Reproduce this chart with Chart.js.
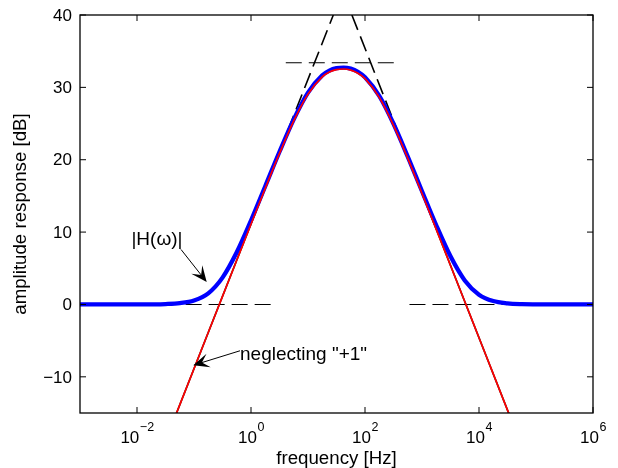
<!DOCTYPE html>
<html>
<head>
<meta charset="utf-8">
<script src="https://cdn.jsdelivr.net/npm/chart.js@4.4.0/dist/chart.umd.min.js"></script>
<style>
  html, body { margin: 0; padding: 0; background: #fff; }
  #wrap { width: 618px; height: 468px; }
</style>
</head>
<body>
<div id="wrap"><canvas id="chart" width="618" height="468"></canvas></div>
<script>
// samples: log10 of frequency [Hz] and amplitude in dB
const freqExp = [-3, -2.5, -2, -1.75, -1.5, -1.25, -1, -0.75, -0.5, -0.25, 0, 0.25, 0.5, 0.75, 1, 1.25, 1.375, 1.5, 1.625, 1.75, 1.875, 2, 2.25, 2.5, 2.75, 3, 3.25, 3.5, 3.75, 4, 4.25, 4.5, 4.75, 5, 5.5, 6];
const magH    = [0, 0.001, 0.006, 0.018, 0.058, 0.18, 0.55, 1.54, 3.71, 7.21, 11.60, 16.34, 21.10, 25.58, 29.28, 31.66, 32.32, 32.66, 32.74, 32.59, 32.16, 31.40, 28.82, 24.97, 20.42, 15.65, 10.94, 6.65, 3.32, 1.35, 0.47, 0.16, 0.05, 0.02, 0, 0];

// same response without the "+1"
const noOneExp = [-1.5, -1.25, -1, -0.75, -0.5, -0.25, 0, 0.25, 0.5, 0.75, 1, 1.25, 1.375, 1.5, 1.625, 1.75, 1.875, 2, 2.25, 2.5, 2.75, 3, 3.25, 3.5, 3.75, 4, 4.25, 4.5, 4.75];
const magNoOne = [-18.88, -13.88, -8.88, -3.88, 1.12, 6.11, 11.09, 16.04, 20.87, 25.37, 29.07, 31.45, 32.11, 32.46, 32.54, 32.38, 31.95, 31.20, 28.61, 24.75, 20.19, 15.33, 10.38, 5.39, 0.40, -4.60, -9.60, -14.60, -19.60];

// straight-line asymptotes
const riseExp = [-1.556, 0.644, 1.444];
const riseDb  = [-20, 24, 40];
const fallExp = [1.77, 2.57, 4.77];
const fallDb  = [40, 24, -20];
const topExp  = [0.61, 2.53];
const topDb   = [33.4, 33.4];
const lowLeftExp  = [-1.55, 0.36];
const lowRightExp = [2.78, 4.76];
const lowDb       = [0, 0];

// axes
const xTickExp = [-2, 0, 2, 4, 6];
const yTicks = [-10, 0, 10, 20, 30, 40];

// annotations [log10 f, dB]
const noteH = { text: '|H(\u03c9)|', at: [-1.65, 9.0], from: [-1.228, 7.6], tip: [-0.777, 3.1] };
const noteNoOne = { text: 'neglecting "+1"', at: [-0.193, -7.0], from: [-0.193, -6.4], tip: [-1.012, -8.4] };

const FONT = '"Liberation Sans", Arial, Helvetica, sans-serif';
const TICK_PX = 17, LABEL_PX = 18.7, NOTE_PX = 19;
const pts = (ex, db) => ex.map((e, i) => ({ x: Math.pow(10, e), y: db[i] }));
const DASH = [16, 7];

function line(ctx, x0, y0, x1, y1) {
    ctx.beginPath(); ctx.moveTo(x0, y0); ctx.lineTo(x1, y1); ctx.stroke();
}

function arrow(ctx, x0, y0, x1, y1) {
    const ang = Math.atan2(y1 - y0, x1 - x0);
    const len = 16, half = 7, notch = 9;
    ctx.lineWidth = 1;
    line(ctx, x0, y0, x1 - Math.cos(ang) * notch, y1 - Math.sin(ang) * notch);
    ctx.save();
    ctx.translate(x1, y1); ctx.rotate(ang);
    ctx.beginPath();
    ctx.moveTo(0, 0); ctx.lineTo(-len, -half); ctx.lineTo(-notch, 0); ctx.lineTo(-len, half);
    ctx.closePath(); ctx.fill();
    ctx.restore();
}

// box, inward ticks and labels drawn the MATLAB way
const axesPlugin = {
    id: 'matlabAxes',
    afterDraw(chart) {
        const { ctx, chartArea: a, scales: { x, y } } = chart;
        ctx.save();
        ctx.strokeStyle = '#000'; ctx.fillStyle = '#000';
        ctx.lineWidth = 1;
        xTickExp.forEach(e => {
            const px = x.getPixelForValue(Math.pow(10, e));
            line(ctx, px, a.bottom, px, a.bottom - 6);
            line(ctx, px, a.top, px, a.top + 6);
        });
        yTicks.forEach(v => {
            const py = y.getPixelForValue(v);
            line(ctx, a.left, py, a.left + 6, py);
            line(ctx, a.right, py, a.right - 6, py);
        });
        ctx.lineWidth = 1.3;
        ctx.strokeRect(a.left, a.top, a.right - a.left, a.bottom - a.top);

        // y tick labels
        ctx.font = TICK_PX + 'px ' + FONT;
        ctx.textAlign = 'right'; ctx.textBaseline = 'middle';
        yTicks.forEach(v => {
            ctx.fillText(String(v).replace('-', '\u2212'), a.left - 8, y.getPixelForValue(v) + 1);
        });

        // x tick labels 10^n
        ctx.textAlign = 'left';
        xTickExp.forEach(e => {
            const px = x.getPixelForValue(Math.pow(10, e));
            const ex = String(e).replace('-', '\u2212');
            ctx.font = TICK_PX + 'px ' + FONT;
            const wb = ctx.measureText('10').width;
            ctx.font = '12.5px ' + FONT;
            const we = ctx.measureText(ex).width;
            const x0 = px - (wb + we) / 2;
            ctx.font = TICK_PX + 'px ' + FONT;
            ctx.fillText('10', x0, a.bottom + 25);
            ctx.font = '12.5px ' + FONT;
            ctx.fillText(ex, x0 + wb + 0.5, a.bottom + 15);
        });

        // axis titles
        ctx.font = LABEL_PX + 'px ' + FONT;
        ctx.textAlign = 'center';
        ctx.fillText('frequency [Hz]', (a.left + a.right) / 2, a.bottom + 46);
        ctx.save();
        ctx.translate(21, (a.top + a.bottom) / 2);
        ctx.rotate(-Math.PI / 2);
        ctx.fillText('amplitude response [dB]', 0, 0);
        ctx.restore();

        // annotations
        const P = p => [x.getPixelForValue(Math.pow(10, p[0])), y.getPixelForValue(p[1])];
        ctx.font = NOTE_PX + 'px ' + FONT;
        ctx.textAlign = 'center';
        let t = P(noteH.at);
        ctx.fillText(noteH.text, t[0], t[1]);
        let f = P(noteH.from), k = P(noteH.tip);
        arrow(ctx, f[0], f[1], k[0], k[1]);

        ctx.textAlign = 'left';
        t = P(noteNoOne.at);
        ctx.fillText(noteNoOne.text, t[0], t[1]);
        f = P(noteNoOne.from); k = P(noteNoOne.tip);
        arrow(ctx, f[0], f[1], k[0], k[1]);
        ctx.restore();
    }
};

const asym = (ex, db, extra) => Object.assign({
    data: pts(ex, db), showLine: true, pointRadius: 0,
    borderColor: '#000', borderWidth: 1.1, borderDash: DASH, order: 3, clip: 0
}, extra || {});

// solid where the asymptote lies on the red curve, dashed above
const slopeSeg = { borderDash: c => (c.p0.parsed.y >= 23.9 && c.p1.parsed.y >= 23.9) ? DASH : [] };

new Chart(document.getElementById('chart'), {
    type: 'scatter',
    data: {
        datasets: [
            { data: pts(noOneExp, magNoOne), showLine: true, pointRadius: 0, borderColor: '#ff0000',
              borderWidth: 1.7, cubicInterpolationMode: 'monotone', order: 0, clip: 0 },
            { data: pts(freqExp, magH), showLine: true, pointRadius: 0, borderColor: '#0000ff',
              borderWidth: 4.3, cubicInterpolationMode: 'monotone', order: 1 },
            asym(riseExp, riseDb, { segment: slopeSeg, borderWidth: 1.6 }),
            asym(fallExp, fallDb, { segment: slopeSeg, borderWidth: 1.6 }),
            asym(topExp, topDb),
            asym(lowLeftExp, lowDb),
            asym(lowRightExp, lowDb)
        ]
    },
    options: {
        responsive: false,
        animation: false,
        devicePixelRatio: 1,
        layout: { padding: { left: 80, right: 25, top: 15, bottom: 55 } },
        plugins: { legend: { display: false }, tooltip: { enabled: false } },
        scales: {
            x: { type: 'logarithmic', min: 1e-3, max: 1e6, display: false },
            y: { type: 'linear', min: -15, max: 40, display: false }
        }
    },
    plugins: [axesPlugin]
});
</script>
</body>
</html>
